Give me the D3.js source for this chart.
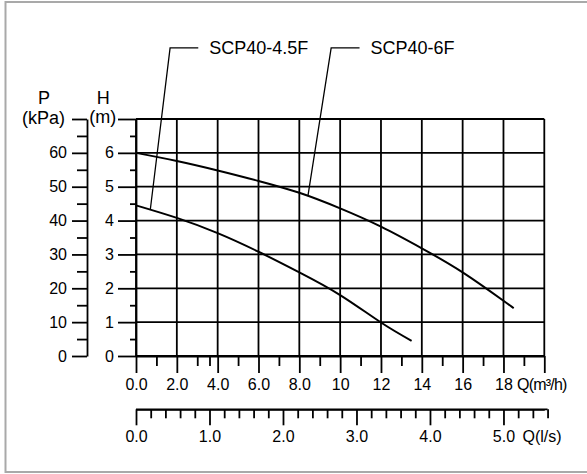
<!DOCTYPE html>
<html><head><meta charset="utf-8">
<script src="https://cdn.jsdelivr.net/npm/d3@7"></script>
<style>
body{margin:0;background:#fff}
svg{display:block}
text{font-family:"Liberation Sans",Arial,Helvetica,sans-serif;fill:#000}
</style>
</head><body>
<svg id="c" width="587" height="474"></svg>
<script>
// ---- data ----
const flowTicks = [0,2,4,6,8,10,12,14,16,18,20];
const flowTickLabels = ["0.0","2.0","4.0","6.0","8.0","10","12","14","16","18",""];
const flowMinorTicks = [1,3,3.6,5,7,9,11,13,15,17,19];
const headTicks = [0,1,2,3,4,5,6,7];
const headTickLabels = ["0","1","2","3","4","5","6",""];
const headMinorTicks = [0.5,1.5,2.5,3.5,4.5,5.5,6.5];
const pressureTicks = [0,10,20,30,40,50,60,70];
const pressureTickLabels = ["0","10","20","30","40","50","60",""];
const pressureMinorTicks = [5,15,25,35,45,55,65];
const lpsTicks = [0,1,2,3,4,5];
const lpsTickLabels = ["0.0","1.0","2.0","3.0","4.0","5.0"];
const lpsMinorTicks = [0.2,0.4,0.6,0.8,1.2,1.4,1.6,1.8,2.2,2.4,2.6,2.8,3.2,3.4,3.6,3.8,4.2,4.4,4.6,4.8,5.2,5.4,5.6];

const seriesNames = ["SCP40-4.5F","SCP40-6F"];
const flow45 = [0,2,4,6,8,10,12,13.5];
const head45 = [4.45,4.08,3.63,3.08,2.47,1.80,0.99,0.45];
const flow6 = [0,2,4,6,8,10,12,14,16,18,18.5];
const head6 = [6.0,5.76,5.48,5.17,4.82,4.36,3.82,3.18,2.47,1.63,1.41];

const calloutAttachQ = [0.7, 8.42];
const calloutAttachH = [4.32, 4.72];
const calloutElbowQ = [1.67, 9.56];
const calloutElbowH = [9.1, 9.1];
const calloutEndQ = [3.05, 10.95];

// ---- scales ----
const svg = d3.select("#c");
const x = d3.scaleLinear().domain([0,20]).range([136,544.3]);
const y = d3.scaleLinear().domain([0,7]).range([356,119]);
const p = d3.scaleLinear().domain([0,70]).range([356,119]);
const lps = d3.scaleLinear().domain([0,20/3.6]).range([136,544.3]);

// frame
svg.append("rect").attr("x",5.5).attr("y",2).attr("width",600).attr("height",470)
  .attr("fill","none").attr("stroke","#a9a9a9").attr("stroke-width",2);

const SW = 1.8;
function styleAxis(g, fs){
  g.selectAll("path,line").attr("stroke","#000").attr("stroke-width",SW);
  g.selectAll("text").attr("font-size",fs).attr("fill","#000").attr("font-family",null);
  g.attr("font-family",null);
}

// grid
const grid = svg.append("g");
grid.selectAll("line.h").data(headTicks).join("line")
  .attr("x1",x(0)).attr("x2",x(20)).attr("y1",d=>y(d)).attr("y2",d=>y(d))
  .attr("stroke","#000").attr("stroke-width",SW);
grid.selectAll("line.v").data(flowTicks).join("line")
  .attr("x1",d=>x(d)).attr("x2",d=>x(d)).attr("y1",y(0)).attr("y2",y(7))
  .attr("stroke","#000").attr("stroke-width",SW);

// P axis
const pAx = svg.append("g").attr("transform","translate(87,0)")
  .call(d3.axisLeft(p).tickValues(pressureTicks).tickSize(15).tickSizeOuter(0).tickPadding(5)
    .tickFormat((d,i)=>pressureTickLabels[i]));
styleAxis(pAx,16);
const pMin = svg.append("g").attr("transform","translate(87,0)")
  .call(d3.axisLeft(p).tickValues(pressureMinorTicks).tickSize(10).tickSizeOuter(0).tickFormat(""));
styleAxis(pMin,16); pMin.select(".domain").remove();

// H axis
const hAx = svg.append("g").attr("transform","translate(136,0)")
  .call(d3.axisLeft(y).tickValues(headTicks).tickSize(18).tickSizeOuter(0).tickPadding(4)
    .tickFormat((d,i)=>headTickLabels[i]));
styleAxis(hAx,16);
const hMin = svg.append("g").attr("transform","translate(136,0)")
  .call(d3.axisLeft(y).tickValues(headMinorTicks).tickSize(6).tickSizeOuter(0).tickFormat(""));
styleAxis(hMin,16); hMin.select(".domain").remove();

// Q m3/h axis
const qAx = svg.append("g").attr("transform","translate(0,356)")
  .call(d3.axisBottom(x).tickValues(flowTicks).tickSize(17).tickSizeOuter(0).tickPadding(6)
    .tickFormat((d,i)=>flowTickLabels[i]));
styleAxis(qAx,16);
const qMin = svg.append("g").attr("transform","translate(0,356)")
  .call(d3.axisBottom(x).tickValues(flowMinorTicks).tickSize(10).tickSizeOuter(0).tickFormat(""));
styleAxis(qMin,16); qMin.select(".domain").remove();

// Q l/s axis
const lAx = svg.append("g").attr("transform","translate(0,409.3)")
  .call(d3.axisBottom(lps).tickValues(lpsTicks).tickSize(16).tickSizeOuter(0).tickPadding(5)
    .tickFormat((d,i)=>lpsTickLabels[i]));
styleAxis(lAx,16);
const lMin = svg.append("g").attr("transform","translate(0,409.3)")
  .call(d3.axisBottom(lps).tickValues(lpsMinorTicks).tickSize(9).tickSizeOuter(0).tickFormat(""));
styleAxis(lMin,16);
lMin.select(".domain").attr("d",`M${lps(0)},0H${lps(5.6)}`);

// axis titles
const t = svg.append("g").attr("font-size",18);
t.append("text").attr("x",44).attr("y",104.3).attr("text-anchor","middle").text("P");
t.append("text").attr("x",43.5).attr("y",124).attr("text-anchor","middle").text("(kPa)");
t.append("text").attr("x",103.3).attr("y",104.3).attr("text-anchor","middle").text("H");
t.append("text").attr("x",102.7).attr("y",123).attr("text-anchor","middle").text("(m)");

svg.append("text").attr("x",517).attr("y",390).attr("font-size",16)
  .attr("letter-spacing",-0.8).text("Q(m³/h)");
svg.append("text").attr("x",522.5).attr("y",441.5).attr("font-size",16).text("Q(l/s)");

// curves
const line = d3.line().x(d=>x(d[0])).y(d=>y(d[1])).curve(d3.curveNatural);
const curves = [d3.zip(flow45,head45), d3.zip(flow6,head6)];
svg.selectAll("path.curve").data(curves).join("path").attr("class","curve")
  .attr("d",line).attr("fill","none").attr("stroke","#000").attr("stroke-width",2);

// callouts
seriesNames.forEach((name,i)=>{
  const pts = [[calloutAttachQ[i],calloutAttachH[i]],[calloutElbowQ[i],calloutElbowH[i]],[calloutEndQ[i],calloutElbowH[i]]];
  svg.append("path").attr("d",d3.line().x(d=>x(d[0])).y(d=>y(d[1]))(pts))
    .attr("fill","none").attr("stroke","#000").attr("stroke-width",1.3);
  svg.append("text").attr("x",x(calloutEndQ[i])+11).attr("y",y(calloutElbowH[i])+6)
    .attr("font-size",18).text(name);
});
</script>
</body></html>
